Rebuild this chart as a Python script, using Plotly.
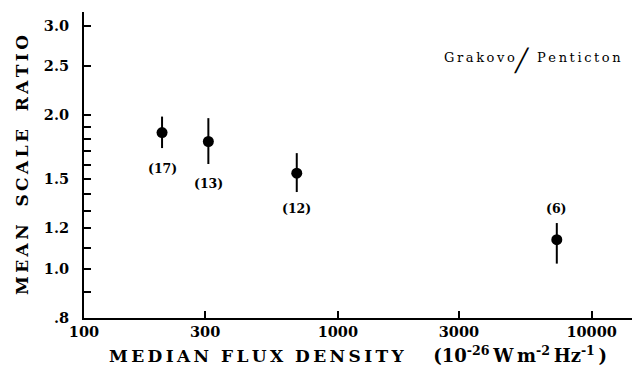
import math
import plotly.graph_objects as go

# ---- data ----
flux = [203, 309, 689, 7290]            # median flux density (10^-26 W m^-2 Hz^-1)
ratio = [1.85, 1.777, 1.54, 1.14]        # mean scale ratio
err_hi = [1.989, 1.975, 1.686, 1.229]    # top of error bar
err_lo = [1.725, 1.605, 1.414, 1.023]    # bottom of error bar
counts = ["(17)", "(13)", "(12)", "(6)"]

y_ticks = [0.8, 1.0, 1.2, 1.5, 2.0, 2.5, 3.0]
y_ticktext = [".8", "1.0", "1.2", "1.5", "2.0", "2.5", "3.0"]
y_minor = [0.9, 1.1, 1.3, 1.4, 1.6, 1.7, 1.8, 1.9]
x_ticks = [100, 300, 1000, 3000, 10000]
x_ticktext = ["100", "300", "1000", "3000", "10000"]

label_shift = [-36, -42, -35, 31]   # pixel offsets of count labels

SERIF = "DejaVu Serif"
TS = "\u2009"  # thin space for letter spacing
NB = "\u00a0"


def spaced(s, gap=TS, word_gap=NB * 3):
    words = s.split(" ")
    return word_gap.join(gap.join(w) for w in words)


fig = go.Figure()
fig.add_trace(go.Scatter(
    x=flux, y=ratio, mode="markers",
    marker=dict(color="black", size=11),
    error_y=dict(type="data", symmetric=False,
                 array=[h - v for h, v in zip(err_hi, ratio)],
                 arrayminus=[v - l for l, v in zip(err_lo, ratio)],
                 color="black", thickness=2, width=0),
    showlegend=False, cliponaxis=False,
))

for xv, yv, txt, dy in zip(flux, ratio, counts, label_shift):
    fig.add_annotation(x=math.log10(xv), y=math.log10(yv), text=txt,
                       showarrow=False, yshift=dy,
                       font=dict(family=SERIF, size=12.5, color="black", weight="bold"))

# "Grakovo / Penticton" label
fig.add_annotation(xref="paper", yref="paper", x=0.790, y=0.8515,
                   xanchor="right", yanchor="middle", showarrow=False,
                   text=spaced("Grakovo"),
                   font=dict(family=SERIF, size=13, color="black"))
fig.add_annotation(xref="paper", yref="paper", x=0.800, y=0.842,
                   xanchor="center", yanchor="middle", showarrow=False,
                   text="\u2571",
                   font=dict(family="DejaVu Sans Mono", size=22, color="black"))
fig.add_annotation(xref="paper", yref="paper", x=0.823, y=0.8515,
                   xanchor="left", yanchor="middle", showarrow=False,
                   text=spaced("Penticton"),
                   font=dict(family=SERIF, size=13, color="black"))

xtitle = (spaced("MEDIAN FLUX DENSITY", word_gap=NB * 2) + NB * 5
          + "<span style='font-size:18px'>(10<sup>-26</sup>" + TS + "W" + TS + "m<sup>-2</sup>"
          + TS + "Hz<sup>-1</sup>" + TS + ")</span>")

fig.update_layout(
    width=632, height=372,
    margin=dict(l=84, r=0, t=12, b=54),
    paper_bgcolor="white", plot_bgcolor="white",
    font=dict(family=SERIF, color="black"),
    xaxis=dict(
        type="log", range=[2, 4.159],
        tickvals=x_ticks, ticktext=x_ticktext,
        ticks="inside", ticklen=7, tickwidth=1.5, tickcolor="black",
        showline=True, linecolor="black", linewidth=2,
        showgrid=False, zeroline=False,
        tickfont=dict(family=SERIF, size=14.5, weight="bold"),
        title=dict(text=xtitle, standoff=11,
                   font=dict(family=SERIF, size=17, weight="bold")),
    ),
    yaxis=dict(
        type="log", range=[math.log10(0.8), 0.504],
        tickvals=y_ticks, ticktext=y_ticktext,
        ticks="inside", ticklen=7, tickwidth=1.5, tickcolor="black",
        minor=dict(tickmode="array", tickvals=y_minor, ticks="inside",
                   ticklen=7, tickwidth=1.5, tickcolor="black", showgrid=False),
        ticklabelstandoff=10,
        showline=True, linecolor="black", linewidth=2,
        showgrid=False, zeroline=False,
        tickfont=dict(family=SERIF, size=14.5, weight="bold"),
        title=dict(text=spaced("MEAN SCALE RATIO", word_gap=NB * 3), standoff=11,
                   font=dict(family=SERIF, size=17, weight="bold")),
    ),
)

fig.write_html("out.html")
